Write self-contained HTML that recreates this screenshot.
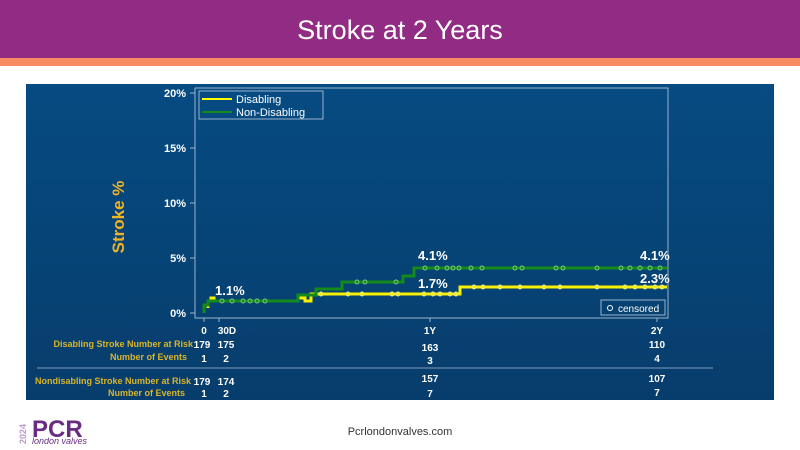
<!DOCTYPE html>
<html><head><style>
body{margin:0;width:800px;height:450px;background:#fff;position:relative;overflow:hidden;font-family:"Liberation Sans",sans-serif}
#hdr{position:absolute;left:0;top:0;width:800px;height:58px;background:#922b84;color:#fff;font-size:27px;text-align:center;line-height:60px}
#str{position:absolute;left:0;top:58px;width:800px;height:8px;background:#f98b62}
#panel{position:absolute;left:26px;top:84px;width:748px;height:316px;background:linear-gradient(#064b82,#073d6c)}
</style></head><body>
<div id="hdr">Stroke at 2 Years</div><div id="str"></div>
<div id="panel"></div>
<svg width="800" height="450" style="position:absolute;left:0;top:0" font-family="Liberation Sans, sans-serif">
<g fill="#fff" font-size="11" font-weight="bold" text-anchor="end">
<text x="186" y="97">20%</text><text x="186" y="152">15%</text><text x="186" y="207">10%</text><text x="186" y="262">5%</text><text x="186" y="317">0%</text></g>
<g stroke="#9bb3cc" stroke-width="1" fill="none">
<path d="M195 88V318H668V88H195"/>
<path d="M190 93H195M190 148H195M190 203H195M190 258H195M190 313H195"/>
<path d="M204 318v4M219 318v4M430 318v4M657 318v4"/>
<rect x="199" y="91" width="124" height="28"/>
<rect x="601" y="300" width="64" height="15"/>
</g>
<text transform="translate(124,217) rotate(-90)" fill="#f0b323" font-size="17" font-weight="bold" text-anchor="middle">Stroke %</text>
<line x1="202" y1="99" x2="232" y2="99" stroke="#ffff00" stroke-width="2"/>
<line x1="202" y1="112" x2="232" y2="112" stroke="#148a1a" stroke-width="2"/>
<text x="236" y="103" fill="#fff" font-size="11">Disabling</text>
<text x="236" y="116" fill="#fff" font-size="11">Non-Disabling</text>
<circle cx="610" cy="308" r="2.5" stroke="#fff" fill="none"/>
<text x="618" y="312" fill="#fff" font-size="10">censored</text>
<path d="M208 308V301H211V298H214V301H298V298H305V301H311V294H460V287H667" stroke="#f7f000" stroke-width="3" fill="none"/>
<path d="M204 313V305H208V301H298V295H316V289H342V282H403V276H414V268H667" stroke="#148a1a" stroke-width="3" fill="none"/>
<g fill="none" stroke="#7dc87d" stroke-width="1">
<circle cx="222" cy="301" r="2"/><circle cx="232" cy="301" r="2"/><circle cx="243" cy="301" r="2"/><circle cx="250" cy="301" r="2"/><circle cx="257" cy="301" r="2"/><circle cx="265" cy="301" r="2"/>
<circle cx="357" cy="282" r="2"/><circle cx="365" cy="282" r="2"/><circle cx="396" cy="282" r="2"/>
<circle cx="425" cy="268" r="2"/><circle cx="437" cy="268" r="2"/><circle cx="447" cy="268" r="2"/><circle cx="453" cy="268" r="2"/><circle cx="459" cy="268" r="2"/><circle cx="471" cy="268" r="2"/><circle cx="482" cy="268" r="2"/><circle cx="515" cy="268" r="2"/><circle cx="522" cy="268" r="2"/><circle cx="556" cy="268" r="2"/><circle cx="563" cy="268" r="2"/><circle cx="597" cy="268" r="2"/><circle cx="621" cy="268" r="2"/><circle cx="630" cy="268" r="2"/><circle cx="640" cy="268" r="2"/><circle cx="650" cy="268" r="2"/><circle cx="660" cy="268" r="2"/></g>
<g fill="none" stroke="#e8e890" stroke-width="1">
<circle cx="321" cy="294" r="2"/><circle cx="348" cy="294" r="2"/><circle cx="362" cy="294" r="2"/><circle cx="392" cy="294" r="2"/><circle cx="398" cy="294" r="2"/><circle cx="424" cy="294" r="2"/><circle cx="433" cy="294" r="2"/><circle cx="440" cy="294" r="2"/><circle cx="450" cy="294" r="2"/><circle cx="456" cy="294" r="2"/>
<circle cx="474" cy="287" r="2"/><circle cx="483" cy="287" r="2"/><circle cx="500" cy="287" r="2"/><circle cx="520" cy="287" r="2"/><circle cx="544" cy="287" r="2"/><circle cx="560" cy="287" r="2"/><circle cx="597" cy="287" r="2"/><circle cx="625" cy="287" r="2"/><circle cx="635" cy="287" r="2"/><circle cx="645" cy="287" r="2"/><circle cx="655" cy="287" r="2"/><circle cx="662" cy="287" r="2"/></g>
<g fill="#fff" font-size="13" font-weight="bold">
<text x="215" y="295">1.1%</text><text x="418" y="260">4.1%</text><text x="418" y="288">1.7%</text>
<text x="640" y="260">4.1%</text><text x="640" y="283">2.3%</text></g>
<g fill="#fff" font-size="10" font-weight="bold" text-anchor="middle">
<text x="204" y="334">0</text><text x="227" y="334">30D</text><text x="430" y="334">1Y</text><text x="657" y="334">2Y</text>
<text x="202" y="348">179</text><text x="226" y="348">175</text><text x="430" y="351">163</text><text x="657" y="348">110</text>
<text x="204" y="362">1</text><text x="226" y="362">2</text><text x="430" y="364">3</text><text x="657" y="362">4</text>
<text x="202" y="385">179</text><text x="226" y="385">174</text><text x="430" y="382">157</text><text x="657" y="382">107</text>
<text x="204" y="397">1</text><text x="226" y="397">2</text><text x="430" y="397">7</text><text x="657" y="396">7</text></g>
<g fill="#d9b52a" font-size="9" font-weight="bold" text-anchor="end">
<text x="193" y="347">Disabling Stroke Number at Risk</text><text x="187" y="360">Number of Events</text>
<text x="191" y="384">Nondisabling Stroke Number at Risk</text><text x="185" y="396">Number of Events</text></g>
<line x1="37" y1="368" x2="713" y2="368" stroke="#7e9cbc" stroke-width="1"/>
<text x="400" y="435" fill="#333" font-size="11" text-anchor="middle">Pcrlondonvalves.com</text>
<text x="32" y="437" fill="#6a2c82" font-size="24" font-weight="bold">PCR</text>
<text x="32" y="444" fill="#6a2c82" font-size="9" font-style="italic">london valves</text>
<text transform="translate(26,444) rotate(-90)" fill="#b99ac8" font-size="9" font-weight="bold">2024</text>
</svg>
</body></html>
